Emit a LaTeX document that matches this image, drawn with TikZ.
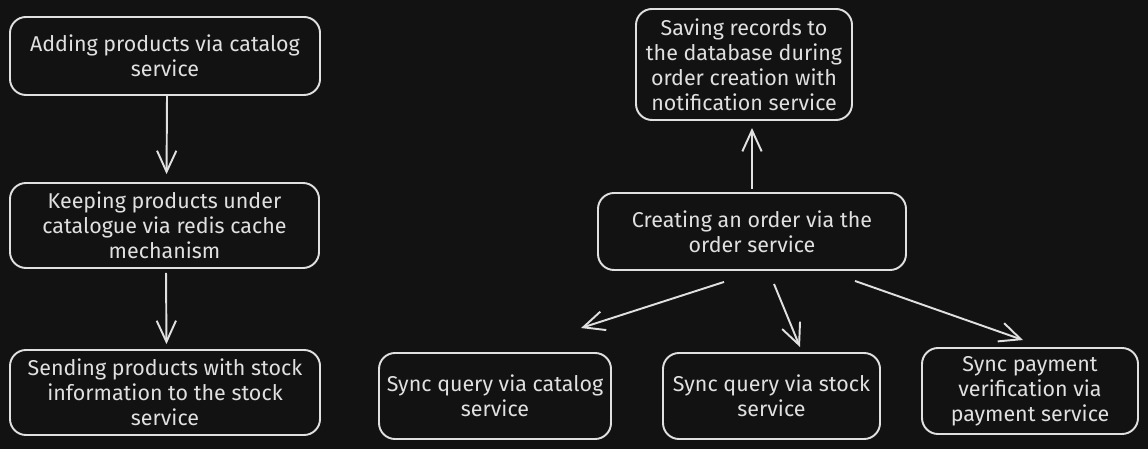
\documentclass[tikz,border=0pt]{standalone}
\usepackage{fontspec}
\setmainfont{Fira Sans}
\usetikzlibrary{arrows.meta}
\definecolor{canvas}{HTML}{121212}
\definecolor{chalk}{HTML}{E0E0E0}

\begin{document}
\begin{tikzpicture}[
    procbox/.style={draw=chalk, text=chalk, line width=1.1pt, rounded corners=0.32cm,
        align=center, inner sep=0pt, font=\fontsize{12.2}{14.2}\selectfont},
    flow/.style={draw=chalk, line width=1.1pt, -{Straight Barb[length=12pt,width=11pt]}}
]
    % Set canvas dimensions
    \pgfmathsetmacro{\canvaswidth}{22.96}
    \pgfmathsetmacro{\canvasheight}{8.98}

    % Draw dark background
    \fill[canvas] (0,0) rectangle (\canvaswidth,\canvasheight);
    \useasboundingbox (0,0) rectangle (\canvaswidth,\canvasheight);

    % Draw catalog column boxes
    \node[procbox, minimum width=6.2cm, minimum height=1.56cm] at (3.30,7.86) (adding) {Adding products via catalog\\service};
    \node[procbox, minimum width=6.18cm, minimum height=1.7cm] at (3.29,4.47) (keeping) {Keeping products under\\catalogue via redis cache\\mechanism};
    \node[procbox, minimum width=6.2cm, minimum height=1.7cm] at (3.30,1.13) (sending) {Sending products with stock\\information to the stock\\service};

    \draw[flow, shorten >=4.5pt] ([xshift=0.04cm]adding.south) -- ([xshift=0.04cm]keeping.north);
    \draw[flow, shorten <=2.2pt, shorten >=2.8pt] ([xshift=0.03cm]keeping.south) -- ([xshift=0.03cm]sending.north);

    % Draw order boxes
    \node[procbox, minimum width=4.32cm, minimum height=2.22cm] at (14.88,7.69) (saving) {Saving records to\\the database during\\order creation with\\notification service};
    \node[procbox, minimum width=6.16cm, minimum height=1.54cm] at (15.04,4.35) (order) {Creating an order via the\\order service};

    \draw[flow, shorten <=1.7pt, shorten >=4pt] (order.north) -- (order.north |- saving.south);

    % Draw sync query boxes
    \node[procbox, minimum width=4.64cm, minimum height=1.72cm] at (9.90,1.06) (catalogq) {Sync query via catalog\\service};
    \node[procbox, minimum width=4.34cm, minimum height=1.72cm] at (15.43,1.06) (stockq) {Sync query via stock\\service};
    \node[procbox, minimum width=4.32cm, minimum height=1.72cm] at (20.60,1.16) (paymentq) {Sync payment\\verification via\\payment service};

    \draw[flow] ([xshift=-0.56cm,yshift=-0.22cm]order.south) -- ([xshift=1.72cm,yshift=0.48cm]catalogq.north);
    \draw[flow] ([xshift=0.44cm,yshift=-0.26cm]order.south) -- ([xshift=0.57cm,yshift=0.10cm]stockq.north);
    \draw[flow] ([xshift=2.06cm,yshift=-0.20cm]order.south) -- ([xshift=-0.14cm,yshift=0.14cm]paymentq.north);
\end{tikzpicture}
\end{document}
